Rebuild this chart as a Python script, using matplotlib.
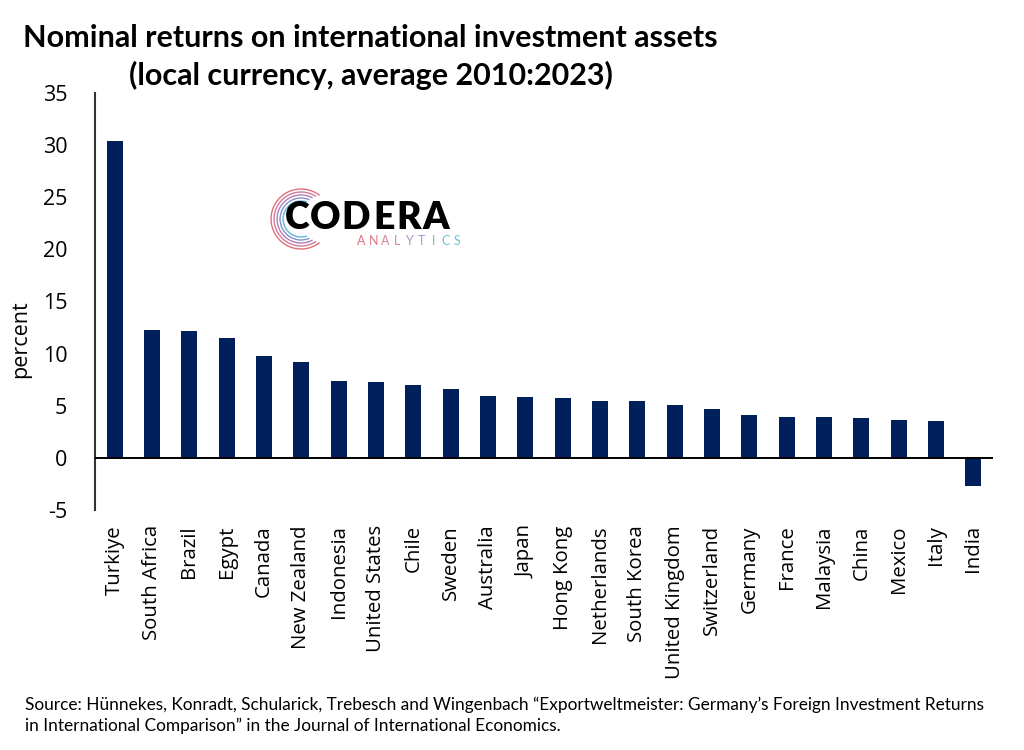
import matplotlib

matplotlib.use("Agg")

import matplotlib.pyplot as plt
import numpy as np
from matplotlib.patches import Arc

countries = [
    "Turkiye", "South Africa", "Brazil", "Egypt", "Canada", "New Zealand",
    "Indonesia", "United States", "Chile", "Sweden", "Australia", "Japan",
    "Hong Kong", "Netherlands", "South Korea", "United Kingdom", "Switzerland",
    "Germany", "France", "Malaysia", "China", "Mexico", "Italy", "India",
]
returns = [
    30.4, 12.3, 12.2, 11.5, 9.8, 9.2,
    7.4, 7.3, 7.0, 6.65, 5.9, 5.85,
    5.7, 5.5, 5.45, 5.1, 4.7,
    4.1, 3.95, 3.9, 3.8, 3.6, 3.5, -2.7,
]
yticks = [-5, 0, 5, 10, 15, 20, 25, 30, 35]

title_lines = ["Nominal returns on international investment assets",
               "(local currency, average 2010:2023)"]
source = ("Source: Hünnekes, Konradt, Schularick, Trebesch and Wingenbach \u201cExportweltmeister: "
          "Germany\u2019s Foreign Investment Returns\nin International Comparison\u201d in the "
          "Journal of International Economics.")

BAR_COLOR = "#00205B"

fig = plt.figure(figsize=(10.24, 7.5), dpi=100)
ax = fig.add_axes([0.0928, 0.32, 0.877, 0.556])

x = np.arange(len(countries))
ax.bar(x, returns, width=0.43, color=BAR_COLOR, zorder=2)
ax.axhline(0, color="black", linewidth=1.4, zorder=3)

ax.set_xlim(-0.53, len(countries) - 0.47)
ax.set_ylim(-5, 35)
ax.set_yticks(yticks)
ax.set_yticklabels([str(v) for v in yticks], fontfamily="Open Sans", fontsize=15.5)
ax.tick_params(axis="y", length=0, pad=20)
ax.set_xticks(x)
ax.set_xticklabels(countries, rotation=90, fontfamily="Open Sans", fontsize=14.7,
                   va="top", ha="center")
ax.tick_params(axis="x", length=0, pad=11)

for side in ("top", "right", "bottom"):
    ax.spines[side].set_visible(False)
ax.spines["left"].set_color("#333333")
ax.spines["left"].set_linewidth(1.5)

ax.set_ylabel("percent", fontfamily="Open Sans", fontsize=15.5)
ax.yaxis.set_label_coords(-0.071, 0.41)

fig.text(0.362, 0.949, title_lines[0], ha="center", va="center", fontfamily="Lato",
         fontweight="bold", fontsize=22)
fig.text(0.362, 0.900, title_lines[1], ha="center", va="center", fontfamily="Lato",
         fontweight="bold", fontsize=22)
fig.text(0.024, 0.046, source, ha="left", va="center", fontfamily="Lato",
         fontsize=12.4, linespacing=1.3)

# logo: circuit-like arcs + wordmark
logo_cx, logo_cy = 0.294, 0.708
arc_colors = ["#e0707a", "#d47a9a", "#b080b8", "#8a90cc", "#60b8d8"]
for i, col in enumerate(arc_colors):
    r = 0.040 - i * 0.004
    fig.add_artist(Arc((logo_cx, logo_cy), r * 750 / 1024 * 2, r * 2, theta1=60 + i * 4,
                       theta2=300 - i * 4, color=col, linewidth=1.0, transform=fig.transFigure))
logo_letters = "CODERA"
letter_x = [297, 325, 356, 384, 409, 436]
for ch, lx in zip(logo_letters, letter_x):
    fig.text(lx / 1024, 0.709, ch, ha="center", va="center", fontfamily="Lato",
             fontweight="heavy", fontsize=27, color="black")
analytics = "ANALYTICS"
a_colors = ["#e07080", "#e07888", "#d88098", "#c888b0", "#b090c0", "#9aa0d0", "#80b0d8", "#70c0e0", "#60c8e0"]
for i, (ch, col) in enumerate(zip(analytics, a_colors)):
    fig.text(0.353 + i * 0.0117, 0.679, ch, ha="center", va="center", fontfamily="Lato",
             fontsize=9, color=col)

fig.savefig("out.png", dpi=100)
